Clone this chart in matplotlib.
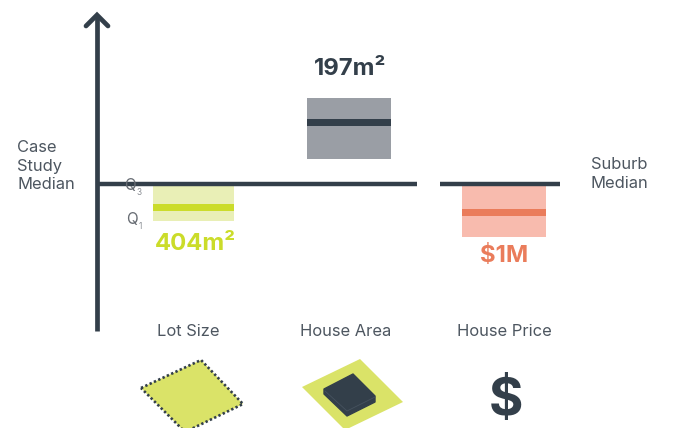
import matplotlib
matplotlib.use("Agg")
import matplotlib.pyplot as plt
from matplotlib.patches import Polygon, Rectangle

# Offsets from the suburb median: positive is above it, negative below.
categories = ["Lot Size", "House Area", "House Price"]
q3_values = [-2.5, 85.5, -2.5]
median_values = [-23.5, 61.5, -28.5]
q1_values = [-37.5, 24.5, -53.5]
value_labels = ["404m²", "197m²", "$1M"]

DARK = "#333f4a"
LIME = "#cbdc2a"
LIME_PALE = "#e9efb6"
LIME_ICON = "#dae368"
GREY_BOX = "#9a9ea5"
CORAL = "#ea7c5b"
CORAL_PALE = "#f8bbae"
TEXT = "#4d5660"

box_colors = [LIME_PALE, GREY_BOX, CORAL_PALE]
line_colors = [LIME, DARK, CORAL]
label_colors = [LIME, DARK, CORAL]
box_left = [153, 307, 461.5]
box_width = [81, 84, 84]
label_x = [195.5, 350, 504]
label_y = [244, 69, 256]
cat_x = [188, 346, 504]

BASE = 183.5
plt.rcParams["font.family"] = ["Inter", "DejaVu Sans"]

fig = plt.figure(figsize=(6.8, 4.28), dpi=100)
# One data unit equals one pixel; y = 0 sits on the suburb median line.
ax = fig.add_axes([0, 0, 1, 1])
ax.set_xlim(0, 680)
ax.set_ylim(BASE - 428, BASE)
ax.axis("off")


def fy(py):
    """Convert a distance from the top edge into a y coordinate."""
    return BASE - py


# Interquartile boxes with their median bars
for i in range(len(categories)):
    ax.add_patch(Rectangle((box_left[i], q1_values[i]), box_width[i],
                           q3_values[i] - q1_values[i],
                           fc=box_colors[i], ec="none", zorder=1))
    ax.add_patch(Rectangle((box_left[i], median_values[i] - 3.5), box_width[i],
                           7, fc=line_colors[i], ec="none", zorder=2))
    ax.text(label_x[i], fy(label_y[i]), value_labels[i], color=label_colors[i],
            fontsize=17.2, fontweight="bold", ha="center", va="center")
    ax.text(cat_x[i], fy(331), categories[i], color=TEXT, fontsize=11.9,
            ha="center", va="center")

# Vertical axis arrow and broken median line
ax.plot([97, 97], [fy(331), fy(15)], color=DARK, lw=3.4, solid_capstyle="butt", zorder=3)
ax.plot([86, 97, 108], [fy(26), fy(15), fy(26)], color=DARK, lw=3.4,
        solid_capstyle="round", solid_joinstyle="miter", zorder=3)
ax.plot([97, 417], [0, 0], color=DARK, lw=3.2, solid_capstyle="butt", zorder=3)
ax.plot([440, 560], [0, 0], color=DARK, lw=3.2, solid_capstyle="butt", zorder=3)

# Side captions
ax.text(17.5, fy(166), "Case\nStudy\nMedian", color=TEXT, fontsize=11.9, ha="left",
        va="center", linespacing=1.3)
ax.text(590.5, fy(174), "Suburb\nMedian", color=TEXT, fontsize=11.9, ha="left",
        va="center", linespacing=1.3)

# Quartile markers
ax.text(124, fy(185), "Q", color="#666b72", fontsize=11, ha="left", va="center", zorder=4)
ax.text(136.5, fy(192), "3", color="#8a8e94", fontsize=6, ha="left", va="center", zorder=4)
ax.text(126, fy(219), "Q", color="#666b72", fontsize=11, ha="left", va="center", zorder=4)
ax.text(139, fy(226), "1", color="#8a8e94", fontsize=6, ha="left", va="center", zorder=4)


def poly(points, **kw):
    ax.add_patch(Polygon([(x, fy(y)) for x, y in points], closed=True, **kw))


# Lot icon: a parcel with a dotted boundary
poly([(141, 388), (201, 360), (243, 404), (185, 432)], fc=LIME_ICON, ec=DARK,
     lw=1.9, ls=(0, (0.9, 0.9)), zorder=2)

# House icon: a block on its lawn
poly([(302, 387), (360, 359), (403, 402), (345, 430)], fc=LIME_ICON, ec="none", zorder=2)
poly([(324, 389), (353, 374), (375, 396), (375, 402), (347, 416), (324, 394)],
     fc=DARK, ec="#333f4a", lw=1, joinstyle="round", zorder=3)
ax.plot([325, 347, 375], [fy(391), fy(411), fy(397)], color="#46525e", lw=0.6, zorder=4)

# Price icon
ax.text(506, fy(402), "$", color=DARK, fontsize=38, fontweight="bold", ha="center",
        va="center", zorder=3)

fig.savefig("out.png", dpi=100, facecolor="white")
